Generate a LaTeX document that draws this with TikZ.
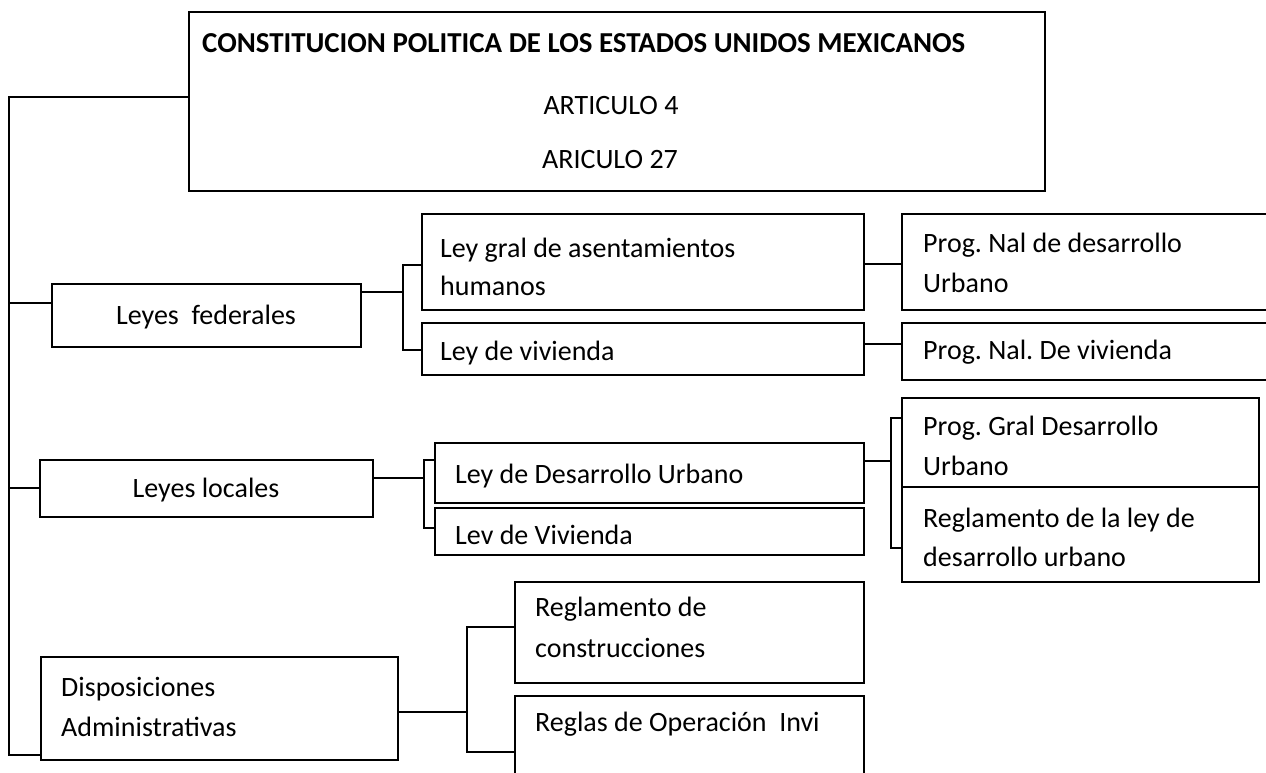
\documentclass[tikz,border=0pt]{standalone}
\usepackage{fontspec}
\setmainfont{Carlito}
\frenchspacing
\newcommand{\bx}[5]{\node[box, minimum width={(#4-#2)*1pt}, minimum height={(#5-#3)*1pt}] (#1) at (#2,#3) {};}
\begin{document}
\begin{tikzpicture}[x=1pt,y=-1pt,
  box/.style={draw, rectangle, inner sep=0pt, outer sep=0pt, anchor=north west, line width=1.6pt},
  conn/.style={draw, line width=1.6pt},
  txt/.style={anchor=base west, inner sep=0pt, font=\fontsize{28}{34}\selectfont},
  ctxt/.style={anchor=base, inner sep=0pt, font=\fontsize{28}{34}\selectfont},
  ttl/.style={anchor=base west, inner sep=0pt, font=\fontsize{28.9}{34}\selectfont\bfseries}]
\useasboundingbox (0,0) rectangle (1266,773);
\fill[white] (0,0) rectangle (1266,773);
% boxes
\bx{top}{189}{12}{1045}{191}
\bx{fed}{52}{284}{361}{347}
\bx{loc}{40}{460}{373}{517}
\bx{disp}{41}{657}{398}{760}
\bx{gral}{422}{214}{864}{310}
\bx{vivf}{422}{323}{864}{375}
\bx{ldu}{435}{443}{864}{503}
\bx{vivl}{435}{508}{864}{555}
\bx{rcon}{515}{582}{864}{683}
\bx{rop}{515}{696}{864}{800}
\bx{pnal}{902}{214}{1275}{310}
\bx{pviv}{902}{323}{1275}{380}
\bx{pgral}{902}{398}{1259}{487}
\bx{rld}{902}{487}{1259}{582}
% texts
\node[ttl] (t0) at (202,53) {CONSTITUCION POLITICA DE LOS ESTADOS UNIDOS MEXICANOS};
\node[ctxt] (t1) at (611,115) {ARTICULO 4};
\node[ctxt] (t2) at (610,168) {ARICULO 27};
\node[ctxt] (t3) at (206,324) {Leyes\ \ federales};
\node[ctxt] (t4) at (206,497) {Leyes locales};
\node[txt] (t5) at (61,696) {Disposiciones};
\node[txt] (t6) at (61,736) {Administrativas};
\node[txt] (t7) at (440,257) {Ley gral de asentamientos};
\node[txt] (t8) at (440,295) {humanos};
\node[txt] (t9) at (440,360) {Ley de vivienda};
\node[txt] (t10) at (923,252) {Prog. Nal de desarrollo};
\node[txt] (t11) at (923,292) {Urbano};
\node[txt] (t12) at (923,359) {Prog. Nal. De vivienda};
\node[txt] (t13) at (923,435) {Prog. Gral Desarrollo};
\node[txt] (t14) at (923,475) {Urbano};
\node[txt] (t15) at (923,527) {Reglamento de la ley de};
\node[txt] (t16) at (923,566) {desarrollo urbano};
\node[txt] (t17) at (455,483) {Ley de Desarrollo Urbano};
\node[txt] (t18) at (455,544) {Lev de Vivienda};
\node[txt] (t19) at (535,616) {Reglamento de};
\node[txt] (t20) at (535,657) {construcciones};
\node[txt] (t21) at (535,731) {Reglas de Operación\ \ Invi};
% main bus
\coordinate (busT) at (9,97);
\coordinate (busB) at (9,755);
\coordinate (b1) at (9,303);
\coordinate (b2) at (9,488);
\draw[conn] (busT -| top.west) -- (busT) -- (busB) -- (busB -| disp.west);
\draw[conn] (b1) -- (b1 -| fed.west);
\draw[conn] (b2) -- (b2 -| loc.west);
% federales bracket
\coordinate (fs) at (403,292);
\coordinate (fbt) at (403,265);
\coordinate (fbb) at (403,350);
\draw[conn] (fs -| fed.east) -- (fs);
\draw[conn] (fbt -| gral.west) -- (fbt) -- (fbb) -- (fbb -| vivf.west);
% federal programs
\coordinate (c1) at (880,264);
\coordinate (c2) at (880,344);
\draw[conn] (c1 -| gral.east) -- (c1 -| pnal.west);
\draw[conn] (c2 -| vivf.east) -- (c2 -| pviv.west);
% locales bracket
\coordinate (ls) at (424,478);
\coordinate (lbt) at (424,460);
\coordinate (lbb) at (424,528);
\draw[conn] (ls -| loc.east) -- (ls);
\draw[conn] (lbt -| ldu.west) -- (lbt) -- (lbb) -- (lbb -| vivl.west);
% local programs bracket
\coordinate (ps) at (891,461);
\coordinate (pbt) at (891,418);
\coordinate (pbb) at (891,548);
\draw[conn] (ps -| ldu.east) -- (ps);
\draw[conn] (pbt -| pgral.west) -- (pbt) -- (pbb) -- (pbb -| rld.west);
% disposiciones bracket
\coordinate (ds) at (467,712);
\coordinate (dbt) at (467,627);
\coordinate (dbb) at (467,752);
\draw[conn] (ds -| disp.east) -- (ds);
\draw[conn] (dbt -| rcon.west) -- (dbt) -- (dbb) -- (dbb -| rop.west);
\end{tikzpicture}
\end{document}
